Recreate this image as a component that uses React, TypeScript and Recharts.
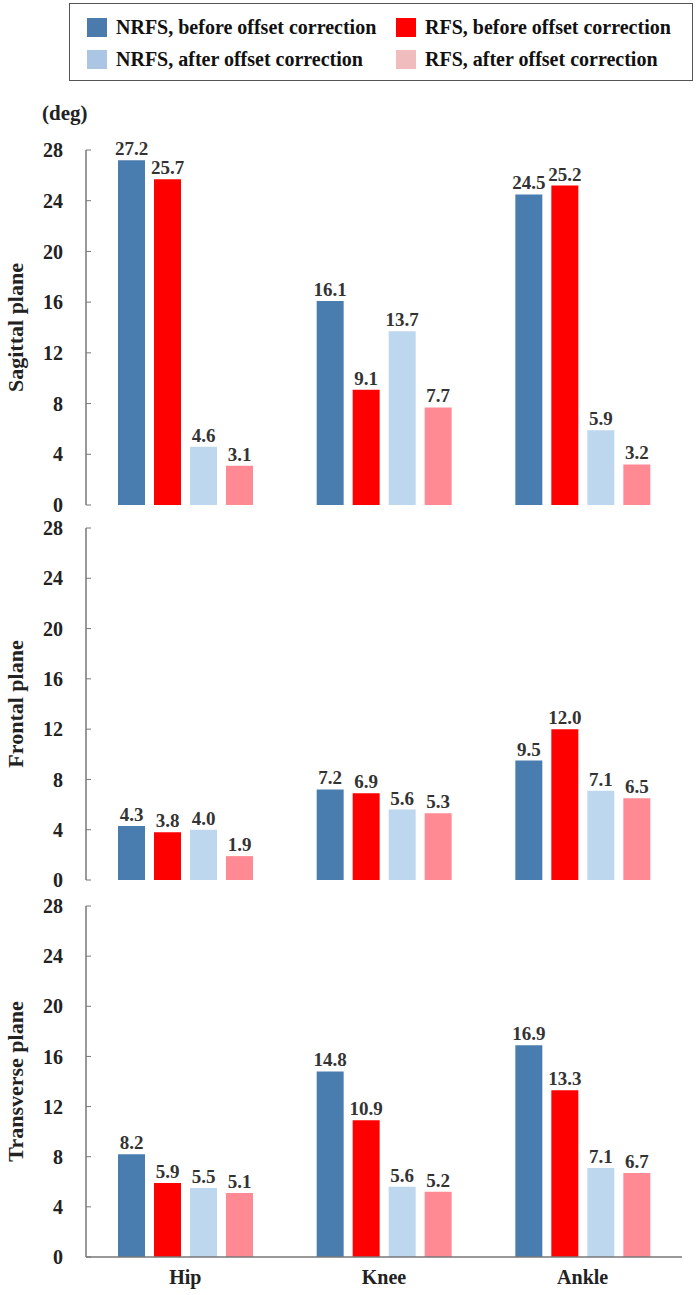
import React from "react";
import {Bar, BarChart, LabelList, XAxis, YAxis} from "recharts";

const joints = ["Hip", "Knee", "Ankle"];
const yTicks = [0, 4, 8, 12, 16, 20, 24, 28];

// Sagittal plane
const sagNrfsBefore = [27.2, 16.1, 24.5];
const sagRfsBefore = [25.7, 9.1, 25.2];
const sagNrfsAfter = [4.6, 13.7, 5.9];
const sagRfsAfter = [3.1, 7.7, 3.2];

// Frontal plane
const froNrfsBefore = [4.3, 7.2, 9.5];
const froRfsBefore = [3.8, 6.9, 12.0];
const froNrfsAfter = [4.0, 5.6, 7.1];
const froRfsAfter = [1.9, 5.3, 6.5];

// Transverse plane
const traNrfsBefore = [8.2, 14.8, 16.9];
const traRfsBefore = [5.9, 10.9, 13.3];
const traNrfsAfter = [5.5, 5.6, 7.1];
const traRfsAfter = [5.1, 5.2, 6.7];

const seriesNames = [
    "NRFS, before offset correction",
    "RFS, before offset correction",
    "NRFS, after offset correction",
    "RFS, after offset correction",
];

const FONT = "'Liberation Serif', 'DejaVu Serif', serif";
const AXIS = "#777";
const colors = ["#4a7daf", "#ff0000", "#bdd7ee", "#ff8a93"];
const legendColors = ["#4a7bac", "#ff0000", "#abc6e5", "#f1bcbd"];

function buildRows(a: number[], b: number[], c: number[], d: number[]) {
    return joints.map((name, i) => ({name, s0: a[i], s1: b[i], s2: c[i], s3: d[i]}));
}

const sagittal = buildRows(sagNrfsBefore, sagRfsBefore, sagNrfsAfter, sagRfsAfter);
const frontal = buildRows(froNrfsBefore, froRfsBefore, froNrfsAfter, froRfsAfter);
const transverse = buildRows(traNrfsBefore, traRfsBefore, traNrfsAfter, traRfsAfter);

const tickStyle = {fontFamily: FONT, fontWeight: 700, fontSize: 20, fill: "#222"};

// plotTop / plotBottom: pixel rows of the 28 and 0 grid values
function Panel({data, title, plotTop, plotBottom, showX}: {
    data: any[]; title: string; plotTop: number; plotBottom: number; showX: boolean
}) {
    const xH = showX ? 38 : 0;
    const bottom = showX ? 0 : 20;
    const height = 30 + (plotBottom - plotTop) + xH + bottom;
    return (
        <div style={{position: "absolute", left: 0, top: plotTop - 30}}>
            <BarChart width={699} height={height} data={data} barSize={27} barGap={9}
                      margin={{top: 30, right: 17, left: 0, bottom}}>
                <XAxis dataKey="name" axisLine={{stroke: AXIS, strokeWidth: 1.5}} tickLine={false}
                       tick={showX ? tickStyle : false} height={xH}
                       tickSize={0} tickMargin={13}/>
                <YAxis domain={[0, 28]} ticks={yTicks} interval={0} width={86} tickSize={-5} tickMargin={28}
                       axisLine={{stroke: AXIS, strokeWidth: 1.5}} tickLine={{stroke: AXIS}}
                       tick={tickStyle}
                       label={{
                           value: title, angle: -90, position: "insideLeft", offset: 0, dx: 15,
                           style: {fontFamily: FONT, fontWeight: 700, fontSize: 22, fill: "#222", textAnchor: "middle"}
                       }}/>
                {["s0", "s1", "s2", "s3"].map((k, i) => (
                    <Bar key={k} dataKey={k} fill={colors[i]} isAnimationActive={false}>
                        <LabelList dataKey={k} position="top" offset={5}
                                   formatter={(v: any) => Number(v).toFixed(1)}
                                   style={{fontFamily: FONT, fontWeight: 700, fontSize: 19, fill: "#333"}}/>
                    </Bar>
                ))}
            </BarChart>
        </div>
    );
}

export default function App() {
    return (
        <div style={{position: "absolute", left: 0, top: 0, width: 699, height: 1295, background: "#fff", fontFamily: FONT}}>
            <div style={{
                position: "absolute", left: 69, top: 3, width: 624, height: 78,
                border: "1px solid #555", boxSizing: "border-box"
            }}>
                {seriesNames.map((n, i) => (
                    <div key={n} style={{
                        position: "absolute", left: i % 2 === 0 ? 17 : 326, top: i < 2 ? 12 : 44,
                        height: 22, display: "flex", alignItems: "center", gap: 9,
                        fontWeight: 700, fontSize: 20, color: "#111", whiteSpace: "nowrap"
                    }}>
                        <span style={{display: "inline-block", width: 20, height: 19, background: legendColors[i]}}/>
                        {n}
                    </div>
                ))}
            </div>
            <div style={{position: "absolute", left: 42, top: 101, fontWeight: 700, fontSize: 21, color: "#222"}}>(deg)</div>
            <Panel data={sagittal} title="Sagittal plane" plotTop={150} plotBottom={505} showX={false}/>
            <Panel data={frontal} title="Frontal plane" plotTop={528} plotBottom={880} showX={false}/>
            <Panel data={transverse} title="Transverse plane" plotTop={906} plotBottom={1257} showX={true}/>
        </div>
    );
}
